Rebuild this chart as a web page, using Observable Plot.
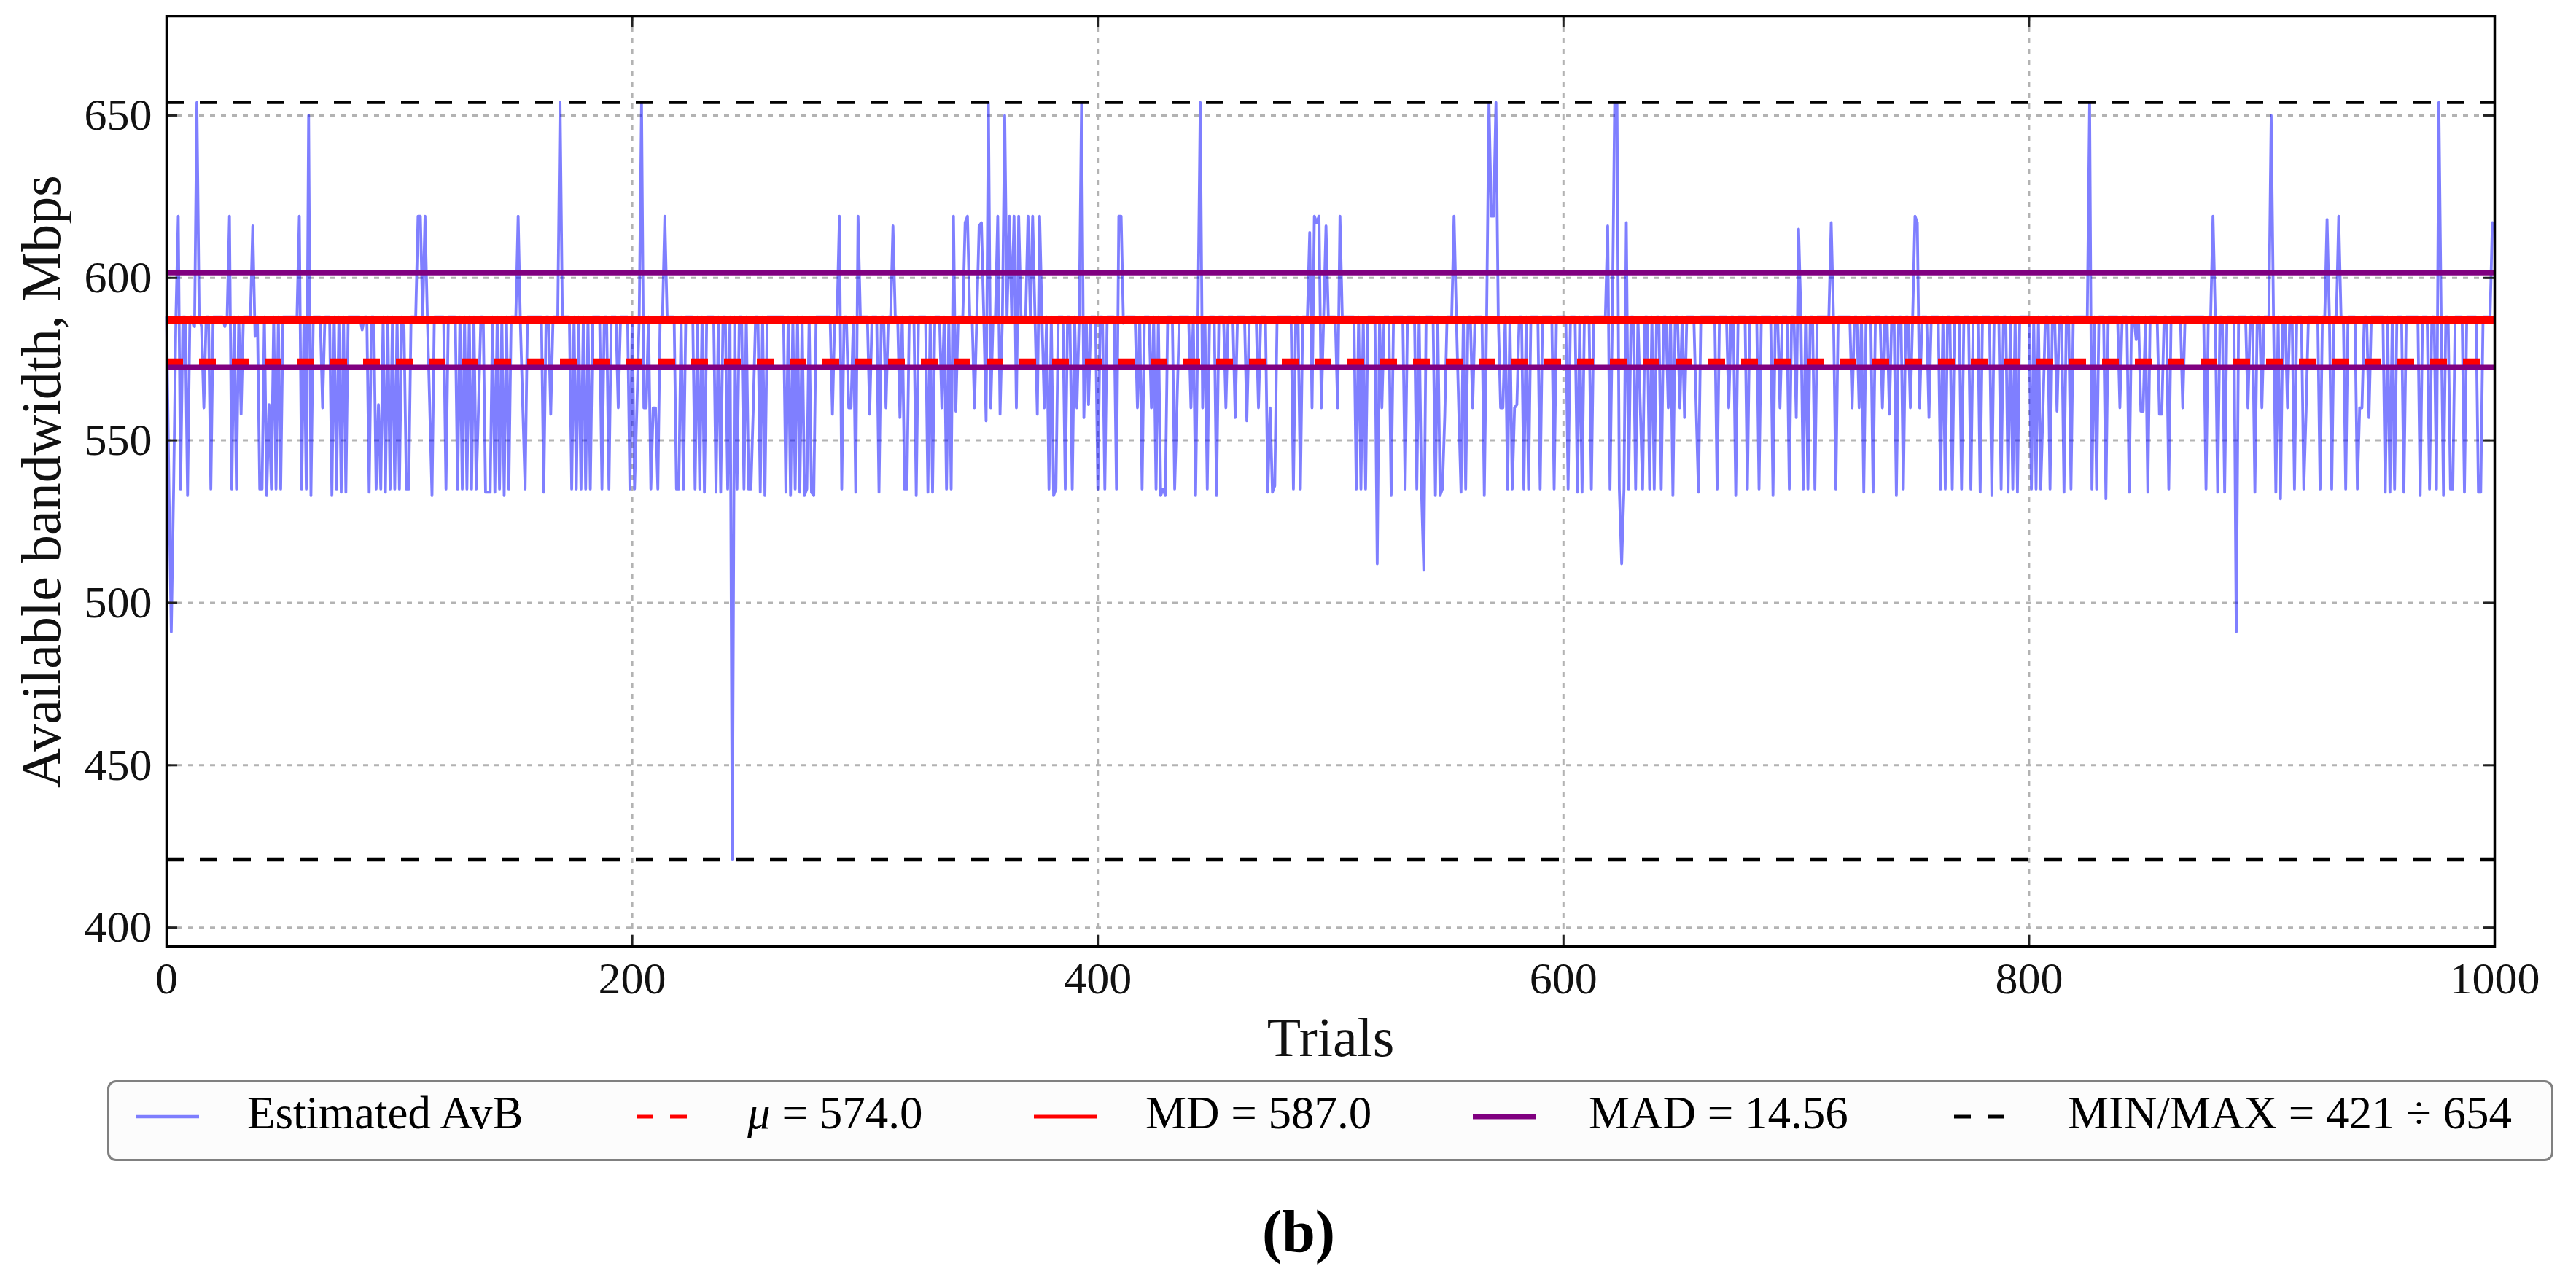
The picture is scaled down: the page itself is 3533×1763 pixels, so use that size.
<!DOCTYPE html>
<html>
<head>
<meta charset="utf-8">
<script src="https://cdn.jsdelivr.net/npm/d3@7"></script>
<script src="https://cdn.jsdelivr.net/npm/@observablehq/plot@0.6"></script>
<style>
  html, body { margin: 0; padding: 0; background: #ffffff; overflow: hidden; }
  #page { position: relative; width: 3533px; height: 1763px; font-family: "Liberation Serif", serif; }
  #chart { position: absolute; left: 0; top: 0; }
  #legend { position: absolute; left: 147px; top: 1482px; width: 3355px; height: 111px; box-sizing: border-box;
            border: 3px solid #808080; border-radius: 12px; background: #fcfcfc; }
  #legend svg { position: absolute; left: 0; top: 0; }
  #caption { position: absolute; left: 1781px; top: 1649px; transform: translateX(-50%); font-family: "Liberation Serif", serif;
             font-weight: bold; font-size: 82px; line-height: 82px; color: #000; white-space: nowrap; }
</style>
</head>
<body>
<div id="page">
  <div id="chart"></div>
  <div id="legend"></div>
  <div id="caption">(b)</div>
</div>
<script>
// ---- data (estimated available bandwidth per trial, Mbps) ----
const avb = [
588,535,491,535,588,619,535,588,588,533,588,588,585,654,588,585,560,588,588,535,
588,588,588,588,588,585,588,619,535,588,535,588,558,588,588,588,588,616,582,588,
535,535,588,533,561,535,588,535,588,535,588,588,588,588,588,588,588,619,535,588,
535,650,533,588,588,588,588,560,588,588,588,533,588,535,588,534,588,534,588,588,
588,588,588,588,584,588,588,534,588,588,535,561,535,588,534,588,535,588,535,588,
535,588,584,535,535,588,588,588,619,619,588,619,588,561,533,588,588,588,588,588,
535,588,588,588,588,535,588,535,588,535,588,535,588,535,561,588,588,534,534,534,
588,534,588,535,588,533,588,535,588,588,588,619,585,560,535,588,588,588,588,588,
588,588,534,588,588,558,588,588,588,654,588,588,588,588,535,588,535,588,535,588,
535,588,535,588,588,588,588,535,588,588,535,588,588,588,560,588,588,588,588,535,
588,535,560,588,654,560,560,588,535,560,560,535,588,588,619,588,588,588,588,535,
535,588,535,588,588,588,588,535,588,535,588,534,588,588,588,588,534,588,534,588,
588,535,588,421,588,535,588,588,535,588,535,535,560,588,588,534,588,533,588,588,
588,588,588,588,588,588,534,588,533,588,535,588,534,588,533,535,588,534,533,588,
588,588,588,588,588,588,558,588,588,619,535,588,588,560,560,588,534,619,588,588,
588,588,558,588,588,588,534,588,588,560,588,588,616,588,588,557,588,535,535,588,
588,588,533,588,588,588,588,534,588,534,588,588,588,560,588,535,588,535,619,559,
588,588,588,617,619,588,588,560,588,616,617,588,556,654,560,588,588,619,558,588,
650,588,619,588,619,560,619,588,588,588,619,588,619,588,558,619,588,560,588,535,
588,533,535,588,588,588,535,588,588,535,588,560,588,654,557,588,561,588,588,588,
535,588,588,535,588,588,588,588,535,619,619,586,588,588,588,588,588,560,588,535,
588,588,588,560,588,535,588,533,535,533,588,588,588,535,561,588,588,588,588,588,
560,588,533,588,654,560,588,535,588,588,588,533,588,588,588,560,588,588,588,557,
588,588,588,588,556,586,588,588,588,560,588,588,588,534,560,534,536,588,588,588,
588,588,588,588,535,588,588,535,588,588,588,614,560,619,617,619,560,588,616,588,
588,588,588,560,619,588,588,588,588,588,588,535,588,535,588,535,588,588,588,588,
512,588,560,588,588,588,533,588,588,588,588,588,535,588,588,588,588,535,588,535,
510,588,588,588,588,533,588,533,535,557,588,588,588,619,588,560,534,588,535,588,
588,560,588,588,588,588,533,588,654,619,619,654,588,560,560,588,535,588,535,560,
561,588,588,535,588,535,588,588,588,588,535,588,588,588,588,588,535,588,588,588,
588,588,535,588,588,588,534,588,534,588,588,588,535,588,588,588,588,588,588,616,
535,588,654,654,535,512,535,617,535,588,588,535,588,560,535,588,588,535,588,535,
588,588,535,588,588,560,588,533,588,588,560,588,557,588,588,588,588,560,534,588,
588,588,588,588,588,588,535,588,588,588,588,560,588,588,533,588,588,588,588,535,
588,588,588,588,535,588,588,588,588,588,533,588,588,560,588,588,588,535,588,588,
557,615,588,535,588,535,588,588,535,588,588,588,588,588,588,617,588,535,588,588,
588,588,588,588,560,588,588,560,588,534,588,588,588,534,588,588,588,560,588,588,
558,588,588,533,588,588,535,588,588,560,588,619,617,560,588,588,588,557,588,588,
588,588,535,588,535,588,588,535,588,588,588,535,588,588,588,535,588,588,588,534,
588,588,588,588,533,588,588,588,535,588,588,534,588,535,588,534,588,588,588,588,
588,535,588,535,588,535,560,588,588,535,588,588,559,588,588,534,588,588,535,588,
588,588,588,588,588,588,654,535,588,535,588,588,588,532,588,588,588,588,588,560,
588,588,588,534,588,588,581,588,559,559,588,534,588,588,588,588,558,558,588,588,
535,588,588,588,588,588,560,588,588,588,588,588,588,588,588,588,535,588,588,619,
588,534,588,588,534,588,588,588,588,491,588,588,588,588,560,588,588,534,588,588,
560,588,588,588,650,588,534,588,532,588,588,560,588,588,535,588,588,588,535,559,
588,588,588,588,588,535,588,588,618,588,535,588,588,619,588,588,535,588,588,588,
588,535,560,560,588,588,557,588,588,588,588,588,588,534,588,534,588,535,588,588,
588,534,588,588,588,588,588,588,533,588,588,588,535,588,588,535,654,588,533,588,
588,535,535,588,588,588,588,534,588,588,588,588,588,534,534,588,588,588,588,617
];

// summary statistics shown in the chart
const meanValue = 574.0;
const medianValue = 587.0;
const madValue = 14.56;
const minValue = 421;
const maxValue = 654;

// tick labels
const xTicks = [0, 200, 400, 600, 800, 1000];
const yTicks = [400, 450, 500, 550, 600, 650];

// legend entries
const legendLabels = [
  "Estimated AvB",
  "μ = " + meanValue.toFixed(1),
  "MD = " + medianValue.toFixed(1),
  "MAD = " + madValue.toFixed(2),
  "MIN/MAX = " + minValue + " ÷ " + maxValue
];
const legendColors = ["#0000ff", "red", "red", "purple", "black"];
const legendOpacity = [0.5, 1, 1, 1, 1];
const legendDash = [null, "23,23", null, null, "23,23"];
const legendWidth = [4.5, 5, 5, 7, 5];

// ---- layout ----
const W = 3533, H = 1475;
const mL = 228, mR = 112, mT = 22, mB = H - 1298;
const innerW = W - mL - mR, innerH = H - mT - mB;
const tickLen = 15;

const chart = Plot.plot({
  width: W,
  height: H,
  marginLeft: mL, marginRight: mR, marginTop: mT, marginBottom: mB,
  style: { fontFamily: "'Liberation Serif', serif", background: "transparent", color: "#111", overflow: "visible" },
  x: { domain: [0, 1000] },
  y: { domain: [394.2, 680.5] },
  marks: [
    Plot.gridX(xTicks, { stroke: "#b3b3b3", strokeOpacity: 1, strokeWidth: 3, strokeDasharray: "7,8" }),
    Plot.gridY(yTicks, { stroke: "#b3b3b3", strokeOpacity: 1, strokeWidth: 3, strokeDasharray: "7,8" }),
    Plot.lineY(avb, { stroke: "#0000ff", strokeOpacity: 0.5, strokeWidth: 3.8 }),
    Plot.ruleY([meanValue], { stroke: "red", strokeWidth: 11, strokeDasharray: "23,22" }),
    Plot.ruleY([medianValue], { stroke: "red", strokeWidth: 11 }),
    Plot.ruleY([medianValue - madValue, medianValue + madValue], { stroke: "purple", strokeWidth: 7 }),
    Plot.ruleY([minValue, maxValue], { stroke: "black", strokeWidth: 4.5, strokeDasharray: "24,22" }),
    // inward ticks on all four sides
    Plot.ruleX(xTicks, { stroke: "#222", strokeWidth: 3, insetTop: innerH - tickLen }),
    Plot.ruleX(xTicks, { stroke: "#222", strokeWidth: 3, insetBottom: innerH - tickLen }),
    Plot.ruleY(yTicks, { stroke: "#222", strokeWidth: 3, insetRight: innerW - tickLen }),
    Plot.ruleY(yTicks, { stroke: "#222", strokeWidth: 3, insetLeft: innerW - tickLen }),
    Plot.frame({ stroke: "black", strokeWidth: 3.5 }),
    Plot.axisX(xTicks, { tickSize: 0, tickPadding: 20, fontSize: 62, label: null, fill: "#111", tickFormat: d => String(d) }),
    Plot.axisX({ ticks: [], tickSize: 0, label: "Trials", labelAnchor: "center", labelArrow: "none", labelOffset: 150, fontSize: 76, fill: "#111" }),
    Plot.axisY(yTicks, { tickSize: 0, tickPadding: 20, fontSize: 62, label: null, fill: "#111", tickFormat: d => String(d) }),
    Plot.axisY({ ticks: [], tickSize: 0, label: "Available bandwidth, Mbps", labelAnchor: "center", labelArrow: "none", labelOffset: 200, fontSize: 76, fill: "#111" })
  ]
});
document.getElementById("chart").appendChild(chart);

// ---- legend (below the SVG chart) ----
const swatchX = [36, 723, 1268, 1870, 2530];
const labelX = [189, 875, 1421, 2029, 2686];
const handleLen = 87;
const lg = d3.select("#legend").append("svg")
  .attr("width", 3349).attr("height", 105)
  .style("font-family", "'Liberation Serif', serif");
legendLabels.forEach((lab, i) => {
  lg.append("line")
    .attr("x1", swatchX[i]).attr("x2", swatchX[i] + handleLen)
    .attr("y1", 47).attr("y2", 47)
    .attr("stroke", legendColors[i])
    .attr("stroke-opacity", legendOpacity[i])
    .attr("stroke-width", legendWidth[i])
    .attr("stroke-dasharray", legendDash[i]);
  const t = lg.append("text")
    .attr("x", labelX[i]).attr("y", 63)
    .attr("font-size", 63).attr("fill", "#000");
  if (lab.startsWith("μ")) {
    t.append("tspan").attr("font-style", "italic").text("μ");
    t.append("tspan").text(lab.slice(1));
  } else {
    t.text(lab);
  }
});
</script>
</body>
</html>
